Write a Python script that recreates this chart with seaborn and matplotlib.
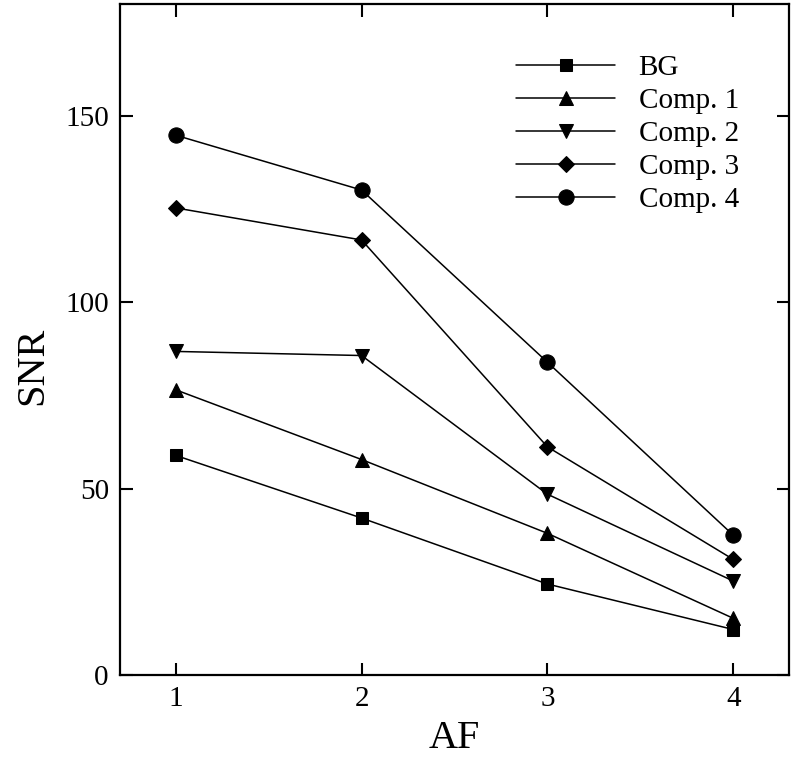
import pandas as pd
import seaborn as sns
import matplotlib.pyplot as plt

af = [1, 2, 3, 4]
bg = [58.9, 42.1, 24.4, 12.2]
comp1 = [76.5, 57.8, 38.0, 15.2]
comp2 = [86.8, 85.7, 48.5, 25.2]
comp3 = [125.3, 116.7, 61.2, 31.0]
comp4 = [144.8, 130.1, 83.9, 37.5]

series_names = ["BG", "Comp. 1", "Comp. 2", "Comp. 3", "Comp. 4"]
series_values = [bg, comp1, comp2, comp3, comp4]
series_markers = ["s", "^", "v", "D", "o"]
marker_sizes = [9, 10, 10, 8, 11]


def make_df():
    rows = []
    for name, vals in zip(series_names, series_values):
        for x, y in zip(af, vals):
            rows.append({"AF": x, "SNR": y, "series": name})
    return pd.DataFrame(rows)


def make_plot(df, output):
    sns.set_style("ticks")
    plt.rcParams["font.family"] = ["Liberation Serif", "DejaVu Serif"]
    for key in ["text.color", "axes.labelcolor", "xtick.color", "ytick.color", "axes.edgecolor"]:
        plt.rcParams[key] = "black"
    fig = plt.figure(figsize=(7.93, 7.59), dpi=100)
    ax = fig.add_axes([0.1513, 0.1107, 0.8437, 0.884])
    for name, mk, ms in zip(series_names, series_markers, marker_sizes):
        sub = df[df["series"] == name]
        sns.lineplot(data=sub, x="AF", y="SNR", ax=ax, color="black",
                     marker=mk, markersize=ms, markeredgecolor="black",
                     linewidth=1.1, label=name)
    ax.set_xlim(0.7, 4.3)
    ax.set_ylim(0, 180)
    ax.set_xticks(af)
    ax.set_yticks([0, 50, 100, 150])
    ax.tick_params(direction="in", top=True, right=True, length=9, width=1.5,
                   labelsize=21, pad=8)
    for sp in ax.spines.values():
        sp.set_linewidth(1.6)
    ax.set_xlabel("AF", fontsize=29, labelpad=6)
    ax.set_ylabel("SNR", fontsize=29)
    ax.yaxis.set_label_coords(-0.103, 0.46)
    ax.legend(loc="upper left", bbox_to_anchor=(0.592, 0.924), frameon=False,
              fontsize=21, handlelength=3.4, handletextpad=0.8,
              labelspacing=0.22, borderpad=0, borderaxespad=0)
    fig.savefig(output, dpi=100)
    plt.close(fig)


def main():
    df = make_df()
    make_plot(df, "out.png")


if __name__ == "__main__":
    main()
